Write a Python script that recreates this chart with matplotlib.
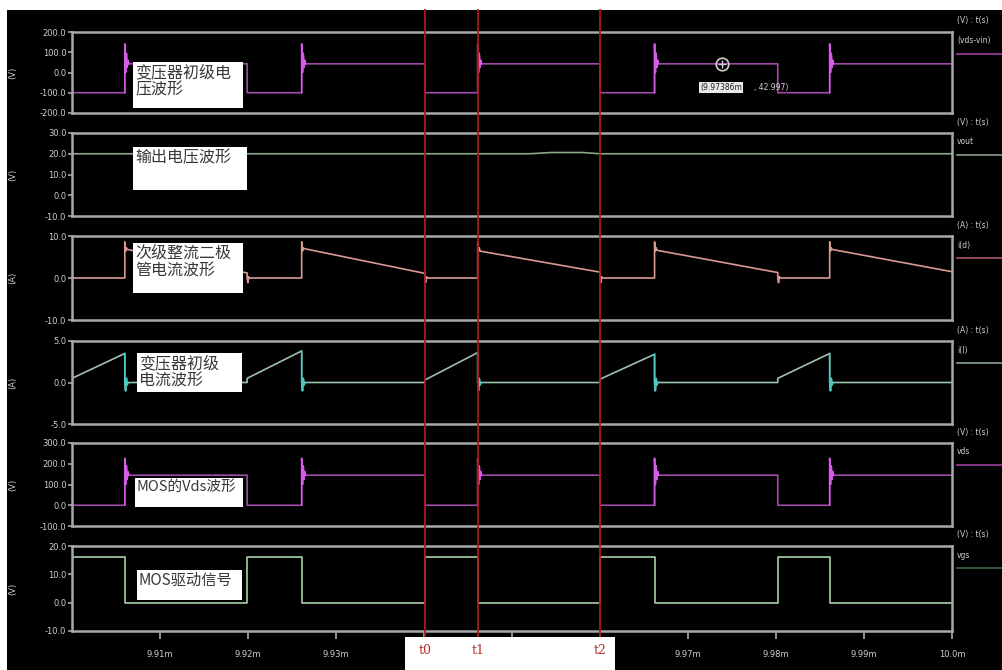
import numpy as np
import matplotlib
matplotlib.use("Agg")
import matplotlib.pyplot as plt
from matplotlib.patches import Rectangle
from matplotlib.lines import Line2D
from matplotlib.transforms import blended_transform_factory

W, H = 1003, 670
CJK = ["Noto Sans CJK SC", "DejaVu Sans"]

# switching edges (ms): start, off, on, off, on, ... , end
EDGES = [9.9000, 9.9060, 9.9199, 9.9261, 9.9401, 9.9461,
         9.9600, 9.9662, 9.9802, 9.9861, 10.0000]
RING_DT = 0.00009

# primary winding voltage (vds - vin)
vp_start = [-100, 43, -100, 43, -100, 43, -100, 43, -100, 43]
vp_end = [-100, 43, -100, 43, -100, 43, -100, 43, -100, 43]
vp_ring_off = [141, 0, 95, 25, 60]

# output voltage
vout_t = [9.9000, 9.9520, 9.9545, 9.9580, 9.9600, 10.0000]
vout_v = [20.0, 20.0, 20.6, 20.6, 20.0, 20.0]

# secondary rectifier diode current
id_start = [0, 6.8, 0, 7.0, 0, 6.4, 0, 6.6, 0, 6.8]
id_end = [0, 1.2, 0, 1.1, 0, 1.4, 0, 1.3, 0, 1.5]
id_ring_off = [8.6, 6.4, 7.2]
id_ring_on = [0.0, -1.1, 0.3]

# primary current
ip_start = [0.5, 0, 0.5, 0, 0.3, 0, 0.4, 0, 0.5, 0]
ip_end = [3.5, 0, 3.8, 0, 3.6, 0, 3.4, 0, 3.5, 0]
ip_ring_off = [0.0, -1.0, 0.5, -0.3]

# MOSFET drain-source voltage
vds_start = [0, 145, 0, 145, 0, 145, 0, 145, 0, 145]
vds_end = [0, 145, 0, 145, 0, 145, 0, 145, 0, 145]
vds_ring_off = [226, 100, 190, 125, 162]

# gate drive
vgs_start = [16, 0, 16, 0, 16, 0, 16, 0, 16, 0]
vgs_end = [16, 0, 16, 0, 16, 0, 16, 0, 16, 0]

cursor_t = [9.9401, 9.9461, 9.9600]
cursor_names = ["t0", "t1", "t2"]
probe_t, probe_v = 9.97386, 42.997

xticks = [9.91, 9.92, 9.93, 9.94, 9.95, 9.96, 9.97, 9.98, 9.99, 10.0]
# 9.94m .. 9.96m sit under the cursor name strip
xtick_labels = ["9.91m", "9.92m", "9.93m", "", "", "",
                "9.97m", "9.98m", "9.99m", "10.0m"]


def trace(starts, ends, ring_off=(), ring_on=()):
    t, y = [], []
    for k in range(len(starts)):
        ta, tb = EDGES[k], EDGES[k + 1]
        ring = [] if k == 0 else (ring_off if k % 2 else ring_on)
        for j, r in enumerate(ring):
            t.append(ta + j * RING_DT)
            y.append(r)
        t += [ta + len(ring) * RING_DT, tb]
        y += [starts[k], ends[k]]
    return np.array(t), np.array(y)


def rings(starts, ends, ring):
    segs = []
    for k in range(1, len(starts), 2):
        ta = EDGES[k]
        t = [ta] + [ta + j * RING_DT for j in range(len(ring))] + [ta + len(ring) * RING_DT]
        y = [ends[k - 1]] + list(ring) + [starts[k]]
        segs.append((t, y))
    return segs


def fx(x):
    return x / W


def fy(y):
    return 1 - y / H


fig = plt.figure(figsize=(W / 100, H / 100), dpi=100)
fig.patch.set_facecolor("black")
# white margins of the capture
fig.add_artist(Rectangle((0, fy(10)), 1, 10 / H, transform=fig.transFigure,
                         facecolor="white", edgecolor="none"))
fig.add_artist(Rectangle((0, 0), 7 / W, 1, transform=fig.transFigure,
                         facecolor="white", edgecolor="none"))

tops = [32, 133, 236, 341, 443, 546]
bots = [113, 216, 320, 424, 526, 631]
ylims = [(-200, 200), (-10, 30), (-10, 10), (-5, 5), (-100, 300), (-10, 20)]
yticks = [[-200, -100, 0, 100, 200], [-10, 0, 10, 20, 30], [-10, 0, 10],
          [-5, 0, 5], [-100, 0, 100, 200, 300], [-10, 0, 10, 20]]
units = ["(V)", "(V)", "(A)", "(A)", "(V)", "(V)"]
names = ["(vds-vin)", "vout", "i(d)", "i(l)", "vds", "vgs"]
legend_colors = ["#9a3c9a", "#8a9a8a", "#a85868", "#8aa0a0", "#9a3c9a", "#3c6a48"]
frame = "#a8a8a8"
tickc = "#cfcfcf"

axes = []
for i in range(6):
    ax = fig.add_axes([fx(72), fy(bots[i]), fx(952 - 72), (bots[i] - tops[i]) / H])
    ax.set_facecolor("black")
    ax.set_xlim(EDGES[0], EDGES[-1])
    ax.set_ylim(*ylims[i])
    ax.set_yticks(yticks[i])
    ax.set_yticklabels(["%.1f" % v for v in yticks[i]])
    for s in ax.spines.values():
        s.set_color(frame)
        s.set_linewidth(1.8)
    ax.tick_params(axis="y", colors=frame, labelcolor=tickc, labelsize=6,
                   direction="out", length=3, width=1.2, pad=1)
    if i < 5:
        ax.set_xticks([])
    else:
        ax.set_xticks(xticks)
        ax.set_xticklabels(xtick_labels)
        ax.tick_params(axis="x", colors=frame, labelcolor=tickc, labelsize=6,
                       direction="out", length=6, width=1.2, pad=8)
    ax.annotate(units[i], xy=(fx(13), 0.5), xycoords=("figure fraction", "axes fraction"),
                rotation=90, ha="center", va="center", color=tickc, fontsize=6)
    ax.annotate("%s : t(s)" % units[i], xy=(fx(957), 1.0),
                xycoords=("figure fraction", "axes fraction"),
                xytext=(0, 11), textcoords="offset pixels",
                ha="left", va="center", color=tickc, fontsize=5.5)
    ax.annotate(names[i], xy=(fx(957), 1.0),
                xycoords=("figure fraction", "axes fraction"),
                xytext=(0, -9), textcoords="offset pixels",
                ha="left", va="center", color=tickc, fontsize=5.5)
    ly = ax.get_position().y1 - 22 / H
    fig.add_artist(Line2D([fx(957), 1.0], [ly, ly], transform=fig.transFigure,
                          color=legend_colors[i], lw=1.2))
    axes.append(ax)

ax1, ax2, ax3, ax4, ax5, ax6 = axes

t, v = trace(vp_start, vp_end, vp_ring_off)
ax1.plot(t, v, color="#a04aa8", lw=1.2)
for st, sv in rings(vp_start, vp_end, vp_ring_off):
    ax1.plot(st, sv, color="#d85ae8", lw=1.1)
ax1.plot(probe_t, probe_v, marker="o", ms=9, mfc="none", mec="#d0d0d0", mew=1.2)
ax1.plot(probe_t, probe_v, marker="+", ms=6, color="#d0d0d0", mew=1)
ax1.annotate("(9.97386m", xy=(probe_t, probe_v), xytext=(-22, -24),
             textcoords="offset pixels", ha="left", va="center", fontsize=5.5,
             color="#202020", bbox=dict(boxstyle="square,pad=0.15", fc="#e8e8e8", ec="none"))
ax1.annotate(", 42.997)", xy=(probe_t, probe_v), xytext=(32, -24),
             textcoords="offset pixels", ha="left", va="center", fontsize=5.5,
             color="#d8d8d8")

ax2.plot(vout_t, vout_v, color="#8aa88a", lw=1.2)

t, v = trace(id_start, id_end, id_ring_off, id_ring_on)
ax3.plot(t, v, color="#d89a92", lw=1.2)

t, v = trace(ip_start, ip_end, ip_ring_off)
ax4.plot(t, v, color="#9cc0b0", lw=1.2)
for st, sv in rings(ip_start, ip_end, ip_ring_off):
    ax4.plot(st, sv, color="#48c8c8", lw=1.1)

t, v = trace(vds_start, vds_end, vds_ring_off)
ax5.plot(t, v, color="#a04aa8", lw=1.2)
for st, sv in rings(vds_start, vds_end, vds_ring_off):
    ax5.plot(st, sv, color="#d85ae8", lw=1.1)

t, v = trace(vgs_start, vgs_end)
ax6.plot(t, v, color="#a8d0a8", lw=1.2)

# cursors through all panels
tr = blended_transform_factory(ax6.transData, fig.transFigure)
for ct in cursor_t:
    fig.add_artist(Line2D([ct, ct], [fy(637), fy(10)], transform=tr,
                          color="#b01818", lw=1.3, zorder=3))

# cursor name strip
fig.add_artist(Rectangle((9.9378, 0), 9.9617 - 9.9378, 33 / H, transform=tr,
                         facecolor="white", edgecolor="none", zorder=4))
for ct, nm in zip(cursor_t, cursor_names):
    fig.text(ct, fy(651), nm, transform=tr, ha="center", va="center",
             fontsize=9, family="DejaVu Serif", color="#b03030", zorder=5)

# waveform captions: box in pixels, text, font size
captions = [
    ((133, 62, 243, 108), "变压器初级电\n压波形", 11.5),
    ((133, 147, 247, 190), "输出电压波形", 11.5),
    ((133, 243, 243, 293), "次级整流二极\n管电流波形", 11.5),
    ((137, 353, 242, 392), "变压器初级\n电流波形", 11.5),
    ((135, 478, 243, 507), "MOS的Vds波形", 10.5),
    ((137, 570, 242, 600), "MOS驱动信号", 11.0),
]
for (x0, y0, x1, y1), txt, fs in captions:
    fig.add_artist(Rectangle((fx(x0), fy(y1)), (x1 - x0) / W, (y1 - y0) / H,
                             transform=fig.transFigure, facecolor="white",
                             edgecolor="none", zorder=4))
    fig.text(fx(x0 + 2), fy(y0 + 2), txt, ha="left", va="top", fontsize=fs,
             family=CJK, color="#383838", linespacing=1.05, zorder=5)

fig.savefig("out.png", dpi=100, facecolor=fig.get_facecolor())
